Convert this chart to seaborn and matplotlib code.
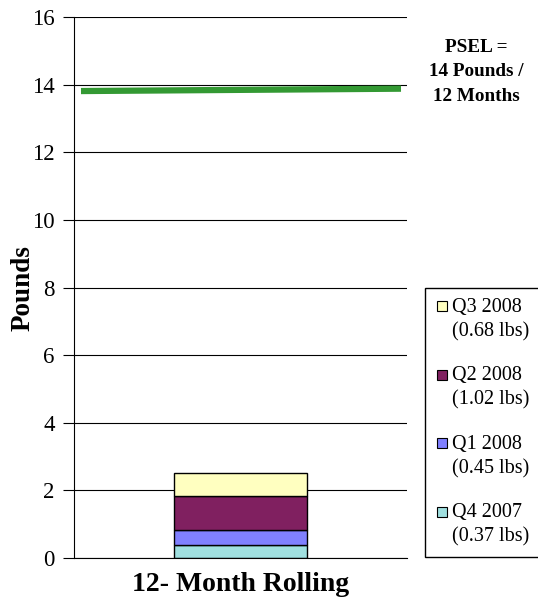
import numpy as np
import pandas as pd
import matplotlib
matplotlib.use('Agg')
import matplotlib.pyplot as plt
import seaborn as sns
from matplotlib.patches import Patch, Rectangle
from matplotlib.legend_handler import HandlerPatch

# data
category = ['12- Month Rolling']
quarters = ['Q4 2007', 'Q1 2008', 'Q2 2008', 'Q3 2008']
pounds = [0.37, 0.45, 1.02, 0.68]
colors = ['#a0e0e0', '#8080ff', '#802060', '#ffffc0']
psel_x = [-0.479, 0.482]
psel_y = [13.81, 13.88]
yticks = [0, 2, 4, 6, 8, 10, 12, 14, 16]

sns.set_theme(style='white')
plt.rcParams['font.family'] = ['Liberation Serif', 'DejaVu Serif']
plt.rcParams['text.color'] = 'black'
plt.rcParams['axes.labelcolor'] = 'black'
plt.rcParams['xtick.color'] = 'black'
plt.rcParams['ytick.color'] = 'black'

fig = plt.figure(figsize=(5.38, 5.98), dpi=100)
ax = fig.add_axes([74 / 538, 40 / 598, 333 / 538, 541 / 598])

bottoms = np.concatenate([[0], np.cumsum(pounds)[:-1]])
for q, v, b, c in zip(quarters, pounds, bottoms, colors):
    df = pd.DataFrame({'cat': category, 'val': [v]})
    sns.barplot(data=df, x='cat', y='val', bottom=b, color=c, width=0.4,
                edgecolor='black', linewidth=1, saturation=1, ax=ax)

sns.lineplot(x=psel_x, y=psel_y, color='#339933', linewidth=4.5, ax=ax,
             solid_capstyle='butt')

ax.set_xlim(-0.5, 0.5)
ax.set_ylim(0, 16)
ax.set_yticks(yticks)
ax.yaxis.grid(True, color='black', linewidth=0.8)
ax.set_axisbelow(True)
for s in ['top', 'right']:
    ax.spines[s].set_visible(False)
ax.spines['left'].set_color('black')
ax.spines['bottom'].set_color('black')
ax.spines['left'].set_linewidth(0.8)
ax.spines['bottom'].set_linewidth(0.8)
ax.tick_params(axis='y', left=True, length=8, width=0.8, color='black',
               labelsize=16.5, pad=6)
ax.tick_params(axis='x', bottom=False, labelsize=20, pad=4)
for lab in ax.get_xticklabels():
    lab.set_fontweight('bold')
ax.set_xlabel('')
ax.set_ylabel('Pounds', fontsize=19.5, fontweight='bold')
ax.yaxis.set_label_coords(-0.114, 0.499)


# small square handle aligned with the first label line
def top_square(legend, orig_handle, xdescent, ydescent, width, height, fontsize):
    sq = 0.5 * fontsize
    return Rectangle((-xdescent + width - sq, -ydescent + height - sq + 0.08 * fontsize), sq, sq)


handles = [Patch(facecolor=c, edgecolor='black', linewidth=0.8) for c in colors][::-1]
labels = [f'{q}\n({v:.2f} lbs)' for q, v in zip(quarters, pounds)][::-1]
leg = fig.legend(handles, labels, loc='upper left', mode='expand',
                 bbox_to_anchor=(425 / 538, 41 / 598, 120 / 538, 269 / 598),
                 frameon=True, fontsize=14.5, handlelength=0.6, handleheight=2.3,
                 handletextpad=0.25, labelspacing=1.25, borderpad=0.5, borderaxespad=0,
                 edgecolor='black', fancybox=False, framealpha=1,
                 handler_map={Patch: HandlerPatch(patch_func=top_square)})
for t in leg.get_texts():
    t.set_linespacing(1.35)

fig.text(476 / 538, 1 - 72 / 598, 'PSEL =\n14 Pounds /\n12 Months', ha='center',
         va='center', fontsize=13.8, fontweight='bold', linespacing=1.55)

fig.savefig('out.png', dpi=100)
